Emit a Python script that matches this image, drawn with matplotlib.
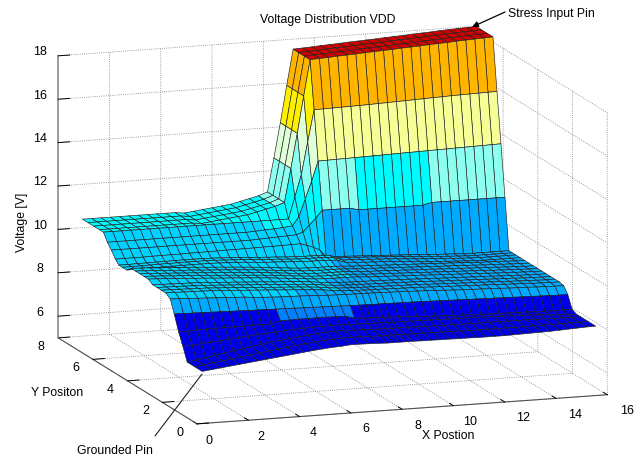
import matplotlib
matplotlib.use("Agg")
import matplotlib.pyplot as plt
import numpy as np
from matplotlib.colors import BoundaryNorm, ListedColormap
from mpl_toolkits.mplot3d import proj3d

plt.rcParams['font.family'] = ['Liberation Sans', 'DejaVu Sans']

# grid of the simulation (non uniform around the pad)
x_pos = [0.2, 0.56, 0.92, 1.28, 1.64, 2.0, 2.37, 2.73, 3.09, 3.45, 3.81, 4.17, 4.53, 4.89, 5.25,
         5.61, 5.97, 6.34, 6.7, 7.06, 7.42, 7.67, 7.92, 8.17, 8.42, 8.78, 9.13, 9.49, 9.85, 10.2,
         10.56, 10.92, 11.28, 11.63, 11.99, 12.35, 12.7, 13.06, 13.42, 13.77, 14.13, 14.49, 14.84,
         15.2, 15.55]
y_pos = [0, 0.43, 0.86, 1.11, 1.36, 1.61, 1.84, 2.1, 2.35, 2.6, 2.85, 3.1, 3.35, 3.6, 3.85,
         4.1, 4.35, 4.6, 4.8, 5.0, 5.23, 5.46, 5.69, 5.92, 6.25, 6.58, 6.9]

# voltage rows
row_front = [7.4, 7.45, 7.5, 7.55, 7.6, 7.65, 7.7, 7.75, 7.8, 7.85, 7.9, 7.95, 8.0, 8.04, 8.08,
             8.1, 8.14, 8.14, 8.13, 8.12, 8.1, 8.1, 8.1, 8.1, 8.1, 8.09, 8.09, 8.08, 8.08, 8.07,
             8.07, 8.06, 8.06, 8.06, 8.06, 8.07, 8.08, 8.09, 8.1, 8.11, 8.13, 8.15, 8.17, 8.19, 8.2]
row_low2 = [7.4, 7.46, 7.52, 7.58, 7.64, 7.7, 7.76, 7.82, 7.88, 7.94, 8.0, 8.05, 8.1, 8.15, 8.19,
            8.21, 8.25, 8.25, 8.24, 8.23, 8.21, 8.21, 8.21, 8.21, 8.21, 8.2, 8.2, 8.19, 8.19, 8.18,
            8.18, 8.17, 8.17, 8.17, 8.17, 8.17, 8.17, 8.17, 8.18, 8.18, 8.18, 8.19, 8.19, 8.2, 8.2]
row_low3 = [7.4, 7.47, 7.55, 7.62, 7.7, 7.77, 7.84, 7.91, 7.98, 8.05, 8.1, 8.15, 8.2, 8.25, 8.3,
            8.32, 8.34, 8.34, 8.33, 8.32, 8.3, 8.3, 8.3, 8.29, 8.29, 8.28, 8.28, 8.27, 8.27, 8.26,
            8.26, 8.25, 8.25, 8.25, 8.25, 8.25, 8.24, 8.24, 8.24, 8.23, 8.23, 8.22, 8.21, 8.2, 8.2]
row_slope1 = [8.0, 8.03, 8.06, 8.1, 8.14, 8.18, 8.22, 8.26, 8.3, 8.33, 8.36, 8.39, 8.42, 8.44, 8.46,
              8.47, 8.48, 8.48, 8.47, 8.46, 8.45, 8.45, 8.44, 8.44, 8.43, 8.42, 8.42, 8.41, 8.41, 8.4,
              8.4, 8.39, 8.39, 8.38, 8.37, 8.36, 8.35, 8.34, 8.33, 8.31, 8.29, 8.26, 8.23, 8.21, 8.2]
row_slope2 = [8.55, 8.56, 8.57, 8.58, 8.59, 8.6, 8.6, 8.6, 8.61, 8.61, 8.62, 8.72, 8.73, 8.74, 8.74,
              8.74, 8.74, 8.73, 8.72, 8.6, 8.58, 8.57, 8.56, 8.55, 8.54, 8.52, 8.5, 8.48, 8.46, 8.44,
              8.42, 8.4, 8.39, 8.38, 8.37, 8.36, 8.35, 8.34, 8.33, 8.32, 8.31, 8.3, 8.3, 8.3, 8.3]
row_slope3 = [9.25, 9.24, 9.23, 9.22, 9.21, 9.2, 9.19, 9.18, 9.17, 9.16, 9.15, 9.14, 9.13, 9.12, 9.11,
              9.1, 9.09, 9.08, 9.07, 9.06, 9.05, 9.05, 9.04, 9.04, 9.04, 9.03, 9.02, 9.02, 9.01, 9.0,
              8.99, 8.98, 8.97, 8.96, 8.95, 8.94, 8.93, 8.92, 8.91, 8.9, 8.89, 8.88, 8.87, 8.86, 8.86]
row_edge = [9.83, 9.81, 9.79, 9.77, 9.75, 9.73, 9.71, 9.69, 9.67, 9.63, 9.6, 9.58, 9.56, 9.55, 9.54,
            9.52, 9.5, 9.48, 9.47, 9.46, 9.45, 9.45, 9.44, 9.44, 9.43, 9.42, 9.41, 9.4, 9.38, 9.37,
            9.35, 9.33, 9.31, 9.3, 9.28, 9.27, 9.25, 9.24, 9.22, 9.21, 9.2, 9.18, 9.17, 9.16, 9.15]
flat_front = [9.98, 9.97, 9.96, 9.95, 9.94, 9.93, 9.9, 9.88, 9.85, 9.83, 9.8, 9.78, 9.75, 9.72, 9.7,
              9.67, 9.64, 9.6, 9.55, 9.5, 9.48, 9.47, 9.46, 9.45, 9.45, 9.44, 9.43, 9.42, 9.41, 9.4,
              9.38, 9.37, 9.35, 9.34, 9.32, 9.31, 9.3, 9.28, 9.27, 9.25, 9.24, 9.22, 9.21, 9.2, 9.2]
flat_mid = [10.12, 10.1, 10.08, 10.05, 10.03, 10.0, 9.98, 9.95, 9.92, 9.9, 9.87, 9.84, 9.81, 9.78, 9.74,
            9.7, 9.66, 9.62, 9.58, 9.56, 9.55, 9.55, 9.55, 9.54, 9.53, 9.5, 9.48, 9.47, 9.45, 9.43,
            9.42, 9.4, 9.38, 9.37, 9.35, 9.33, 9.32, 9.3, 9.28, 9.26, 9.25, 9.23, 9.22, 9.2, 9.2]
flat_back = [9.92, 9.92, 9.93, 9.93, 9.94, 9.94, 9.95, 9.95, 9.95, 9.95, 9.94, 9.92, 9.9, 9.88, 9.85,
             9.82, 9.8, 9.78, 9.75, 9.73, 9.72, 9.72, 9.71, 9.7, 9.68, 9.54, 9.52, 9.5, 9.48, 9.46,
             9.44, 9.41, 9.38, 9.35, 9.32, 9.3, 9.27, 9.25, 9.23, 9.21, 9.2, 9.2, 9.2, 9.2, 9.2]
row_base = [10.1, 10.1, 10.1, 10.1, 10.11, 10.11, 10.12, 10.12, 10.13, 10.13, 10.14, 10.14, 10.15, 10.15,
            10.16, 10.16, 10.17, 10.17, 10.18, 10.19, 10.2, 10.1, 10.0, 9.85, 9.5, 9.5, 9.48, 9.46, 9.44,
            9.42, 9.4, 9.38, 9.36, 9.34, 9.32, 9.3, 9.27, 9.25, 9.23, 9.21, 9.2, 9.2, 9.2, 9.2, 9.2]
row_wall1 = [10.4] * 16 + [10.42, 10.44, 10.46, 10.48, 10.5, 10.6, 10.9, 11.2, 11.55] \
    + [11.55] * 3 + [11.45] * 8 + [11.55] * 9
row_wall2 = [10.65] * 16 + [10.67, 10.7, 10.72, 10.75, 10.8, 11.2, 12.0, 12.8, 13.7,
                            13.71, 13.72, 13.73, 13.74, 13.75, 13.76, 13.77, 13.78, 13.79, 13.8,
                            13.81, 13.82, 13.83, 13.84, 13.85, 13.86, 13.87, 13.88, 13.89, 13.9]
row_wall3 = [11.0] * 21 + [12.0, 13.0, 14.5, 15.95,
                           15.96, 15.97, 15.98, 15.99, 16.0, 16.01, 16.03, 16.04, 16.06, 16.07,
                           16.09, 16.1, 16.12, 16.13, 16.15, 16.16, 16.17, 16.18, 16.19, 16.2]
row_top = [11.0] * 11 + [10.95, 11.0, 11.05, 11.1, 11.15, 11.2, 11.3, 11.4, 11.5, 11.65, 13.2, 14.8, 16.5,
                         18.15, 18.17, 18.19, 18.22, 18.24, 18.26, 18.29, 18.31, 18.33, 18.35, 18.38,
                         18.4, 18.42, 18.45, 18.47, 18.49, 18.52, 18.54, 18.56, 18.58, 18.6]
voltage_rows = [row_front, row_low2, row_low3, row_slope1, row_slope2, row_slope3, row_edge,
                flat_front, flat_front, flat_front, flat_front, flat_mid, flat_mid, flat_mid, flat_mid,
                flat_mid, flat_back, flat_back, flat_back, row_base, row_wall1, row_wall2, row_wall3,
                row_top, row_top, row_top, row_top]

x_ticks = [0, 2, 4, 6, 8, 10, 12, 14, 16]
y_ticks = [0, 2, 4, 6, 8]
z_ticks = [6, 8, 10, 12, 14, 16, 18]

# coarse colormap like the original figure
band_edges = [0, 8.65, 8.85, 9.55, 10.7, 11.5, 12.7, 13.5, 14.5, 15.5, 18, 30]
band_colors = ['#0000e6', '#0080ff', '#00aaff', '#00d2ff', '#00fbff', '#8cfff0',
               '#e0ffd8', '#f5ff96', '#fff000', '#ffb400', '#d20000']

X, Y = np.meshgrid(x_pos, y_pos)
Z = np.array(voltage_rows)
cmap = ListedColormap(band_colors)
norm = BoundaryNorm(band_edges, cmap.N)

fig = plt.figure(figsize=(6.42, 4.60), dpi=100)
ax = fig.add_axes([5.5 / 642, -2.5 / 460, 1, 1], projection='3d', proj_type='ortho')
ax.view_init(elev=12.1, azim=-108.7)
ax.set_box_aspect((1, 1, 0.666), zoom=1.4287)
ax.patch.set_alpha(0)

surf = ax.plot_surface(X, Y, Z, facecolors=cmap(norm(Z)), rstride=1, cstride=1, shade=False,
                       edgecolor='#202020', linewidth=0.45, antialiased=True)
surf.set_clip_on(False)

ax.set_xlim(0, 16, view_margin=0)
ax.set_ylim(0, 8, view_margin=0)
ax.set_zlim(5, 18, view_margin=0)
ax.set_xticks(x_ticks)
ax.set_yticks(y_ticks)
ax.set_zticks(z_ticks)
ax.set_xticklabels([])
ax.set_yticklabels([])
ax.set_zticklabels([])

for axis in (ax.xaxis, ax.yaxis, ax.zaxis):
    axis.set_pane_color((1, 1, 1, 0))
    axis.pane.set_edgecolor((1, 1, 1, 0))
    axis.line.set_color('#505050')
    axis.line.set_linewidth(0.8)
    axis._axinfo['grid'].update(color='#808080', linestyle=(0, (1, 1.6)), linewidth=0.6)
    axis._axinfo['tick'].update(inward_factor=0, outward_factor=0.35, linewidth={True: 0.7, False: 0.5})
    axis._axinfo['tick']['color'] = '#505050'
ax.zaxis.line.set_color('#909090')
ax.zaxis.line.set_linewidth(1.2)


# tick labels sit a bit off the axes, like the original
def tick_text(x, y, z, label):
    sx, sy, _ = proj3d.proj_transform(x, y, z, ax.get_proj())
    ax.text2D(sx, sy, label, transform=ax.transData, ha='center', va='center', fontsize=9)


for v in x_ticks:
    tick_text(v * 1.02, -0.69, 4.62, str(v))
for v in y_ticks:
    tick_text(-0.66, v, 4.69, str(v))
for v in z_ticks:
    tick_text(0, 9.03, v - 0.3, str(v))


def px(x, y):
    return (x / 642, 1 - y / 460)


fig.text(*px(328, 20), 'Voltage Distribution VDD', ha='center', va='center', fontsize=8.8)
fig.text(*px(508, 14), 'Stress Input Pin', ha='left', va='center', fontsize=8.8)
fig.text(*px(22, 222), 'Voltage [V]', ha='center', va='center', rotation=90, fontsize=8.8)
fig.text(*px(57, 393), 'Y Positon', ha='center', va='center', fontsize=8.8)
fig.text(*px(448, 436), 'X Postion', ha='center', va='center', fontsize=8.8)
fig.text(*px(115, 451), 'Grounded Pin', ha='center', va='center', fontsize=8.8)

ax.annotate('', xy=px(472, 28), xytext=px(505, 13), xycoords='figure fraction', textcoords='figure fraction',
            arrowprops=dict(arrowstyle='-|>', color='black', lw=0.9, mutation_scale=9, shrinkA=0, shrinkB=0))
ax.annotate('', xy=px(202, 375), xytext=px(155, 437), xycoords='figure fraction', textcoords='figure fraction',
            arrowprops=dict(arrowstyle='-', color='#202020', lw=0.8, shrinkA=0, shrinkB=0))

fig.savefig('out.png', dpi=100)
